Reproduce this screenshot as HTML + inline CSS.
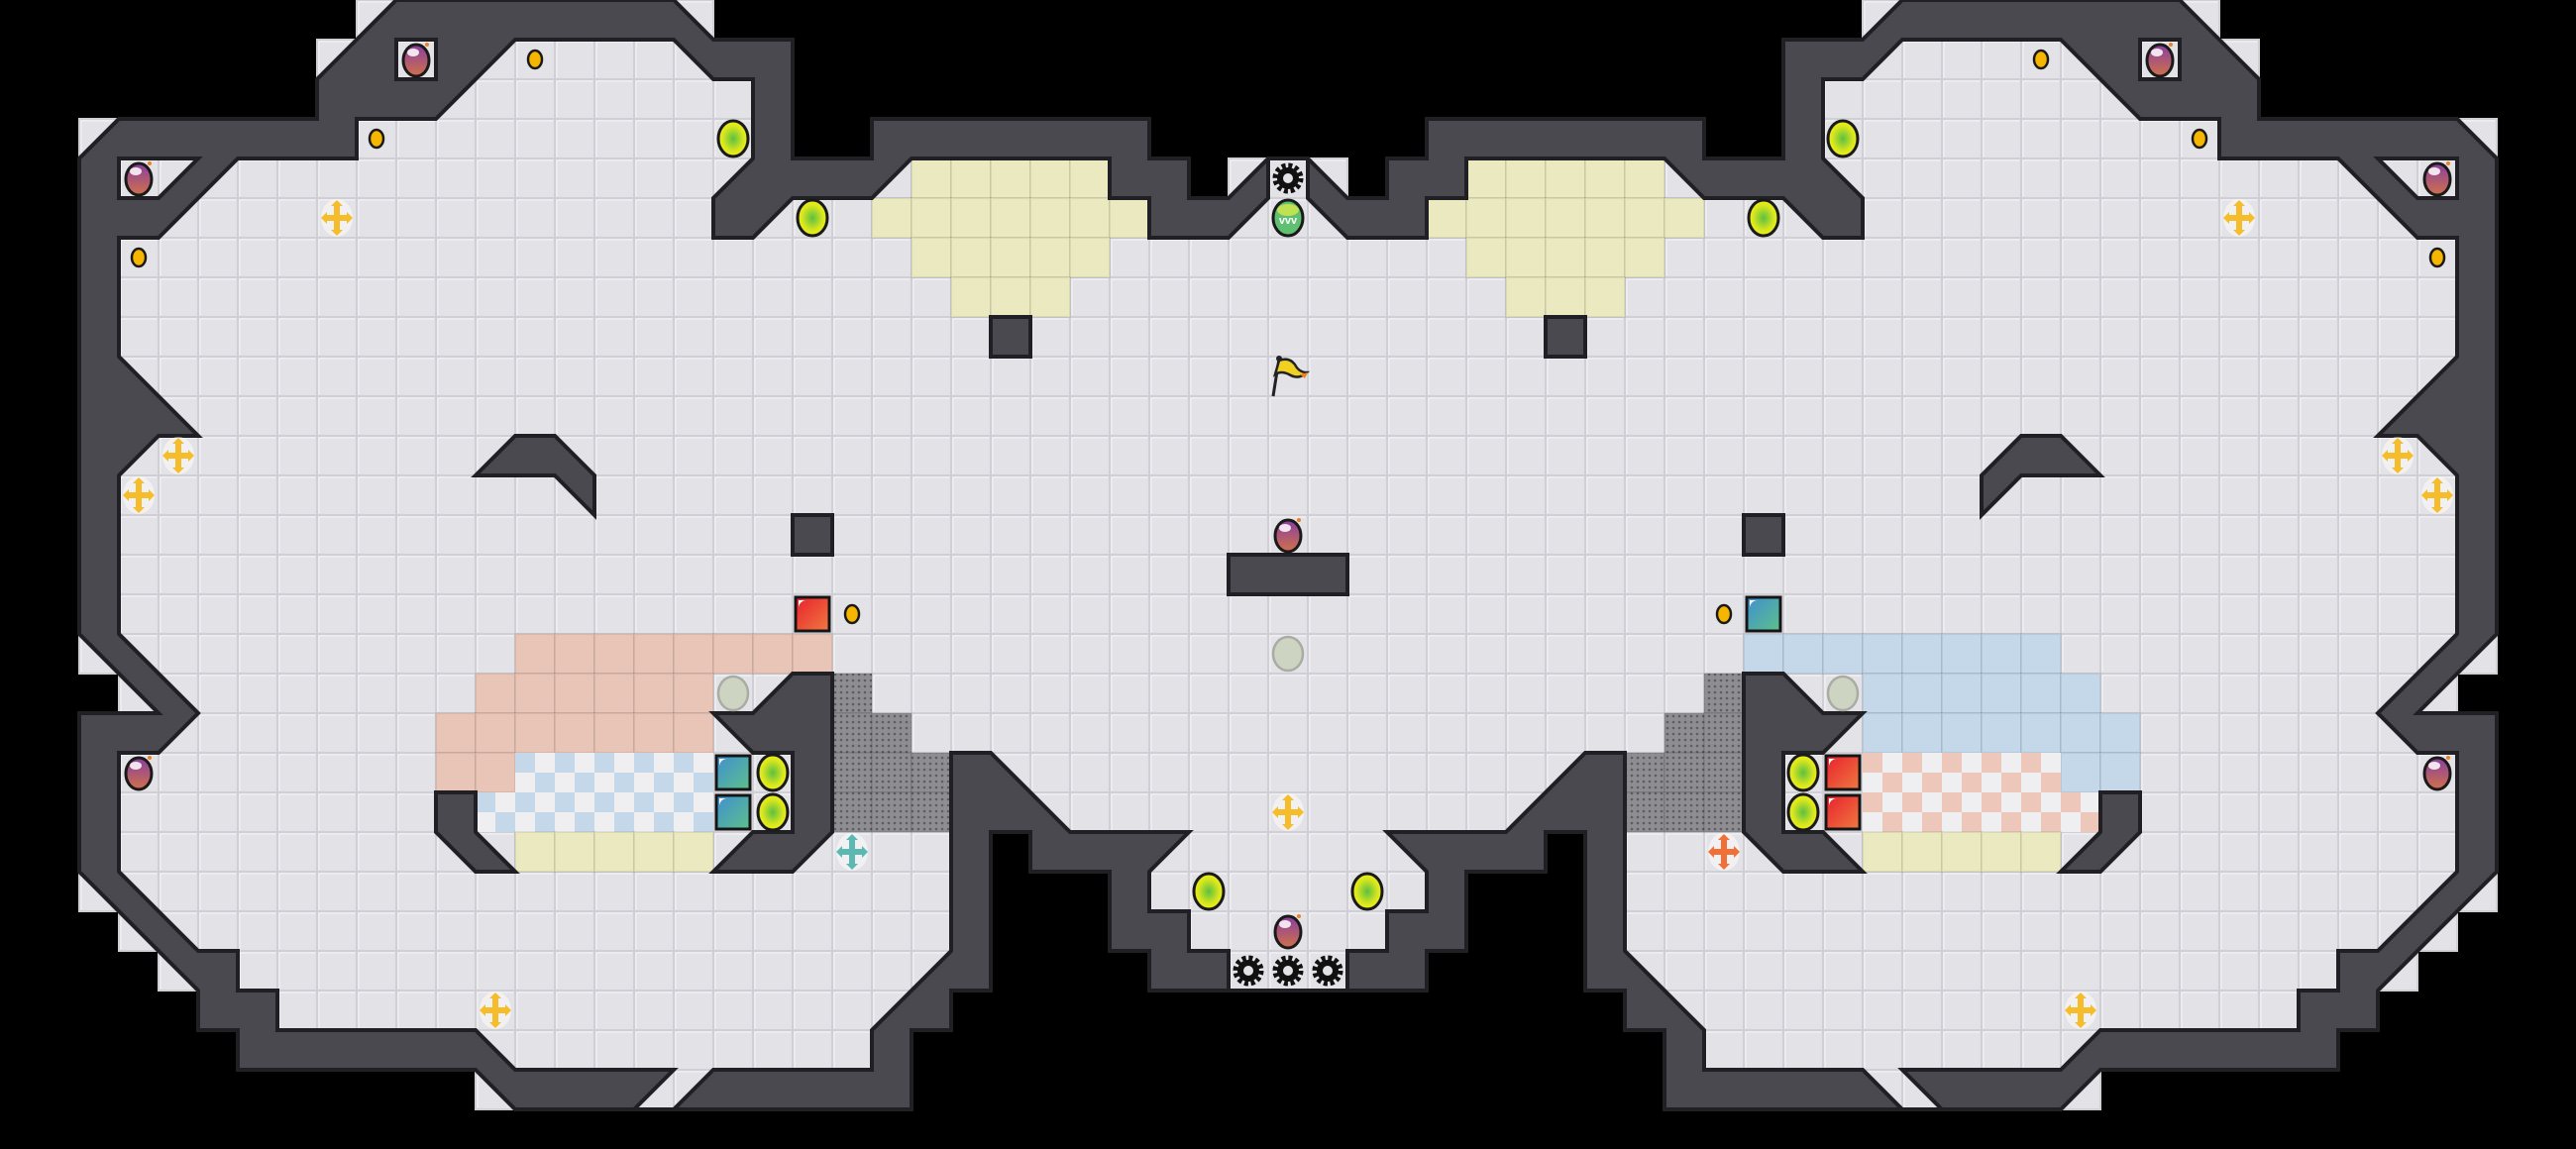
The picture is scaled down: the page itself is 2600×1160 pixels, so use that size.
<!DOCTYPE html>
<html><head><meta charset="utf-8"><style>
html,body{margin:0;padding:0;background:#000;}
#wrap{width:2600px;height:1160px;overflow:hidden;}
</style></head><body><div id="wrap"></div>
<script>
const S=40;
const oL=[[32,4],[31,5],[30,5],[30,4],[29,4],[29,3],[22,3],[22,4],[20,4],[20,1],[18,1],[17,0],[10,0],[9,1],[8,2],[8,3],[3,3],[2,4],[2,16],[4,18],[2,18],[2,22],[5,25],[5,26],[6,26],[6,27],[12,27],[13,28],[23,28],[23,26],[24,26],[24,25],[25,25],[25,21],[26,21],[26,22],[28,22],[28,24],[29,24],[29,25],[31,25]];
const iL=[[32,4],[32,5],[31,6],[29,6],[29,5],[28,5],[28,4],[23,4],[22,5],[20,5],[19,6],[18,6],[18,5],[19,4],[19,2],[18,2],[17,1],[13,1],[11,3],[9,3],[9,4],[6,4],[4,6],[3,6],[3,9],[5,11],[4,11],[3,12],[3,16],[5,18],[4,19],[3,19],[3,22],[5,24],[6,24],[6,25],[7,25],[7,26],[12,26],[13,27],[17,27],[16,28],[17,28],[18,27],[22,27],[22,26],[24,24],[24,19],[25,19],[27,21],[30,21],[29,22],[29,23],[30,23],[30,24],[31,24],[31,25]];
const m=p=>[65-p[0],p[1]];
const full=L=>L.concat(L.slice().reverse().map(m));
const outer=full(oL), inner=full(iL);
function pip(x,y,poly){let ins=false;for(let i=0,j=poly.length-1;i<poly.length;j=i++){const xi=poly[i][0],yi=poly[i][1],xj=poly[j][0],yj=poly[j][1];if(((yi>y)!=(yj>y))&&(x<(xj-xi)*(y-yi)/(yj-yi)+xi))ins=!ins;}return ins;}
const P=pts=>'M'+pts.map(p=>(p[0]*S)+','+(p[1]*S)).join('L')+'Z';
let s='<svg xmlns="http://www.w3.org/2000/svg" width="2600" height="1160" viewBox="0 0 2600 1160">';
s+='<defs><radialGradient id="yg" cx="50%" cy="50%" r="50%"><stop offset="0" stop-color="#5cc040"/><stop offset="0.7" stop-color="#d8e61e"/><stop offset="1" stop-color="#eef01a"/></radialGradient>'+
'<linearGradient id="bm" x1="0" y1="0" x2="0" y2="1"><stop offset="0" stop-color="#8a3fa0"/><stop offset="1" stop-color="#d0704a"/></linearGradient>'+
'<linearGradient id="tl" x1="0" y1="0" x2="1" y2="1"><stop offset="0" stop-color="#3f8fd0"/><stop offset="1" stop-color="#5ec08a"/></linearGradient>'+
'<linearGradient id="rd" x1="0" y1="0" x2="1" y2="1"><stop offset="0" stop-color="#e8202e"/><stop offset="1" stop-color="#f07a40"/></linearGradient>'+
'<pattern id="dots" width="6" height="6" patternUnits="userSpaceOnUse"><rect width="6" height="6" fill="#8e8e92"/><circle cx="3" cy="3" r="1.3" fill="#5e5e62"/></pattern></defs>';
s+='<rect width="2600" height="1160" fill="#000"/>';
// floor
for(let r=0;r<29;r++)for(let c=0;c<65;c++){let f=false;for(let a=0;a<4&&!f;a++)for(let b=0;b<4&&!f;b++){if(pip(c+0.125+a*0.25,r+0.125+b*0.25,outer))f=true;}
 if(f)s+='<rect x="'+(c*S)+'" y="'+(r*S)+'" width="40" height="40" fill="#e3e3e7" stroke="#cfcfd5" stroke-width="2"/><path d="M'+(c*S+2)+','+(r*S+38)+'V'+(r*S+2)+'H'+(c*S+38)+'" stroke="#f2f2f5" stroke-width="1.2" fill="none"/>';}
function cells(list,col){list.forEach(([r,a,b])=>{for(let c=a;c<=b;c++)s+='<rect x="'+(c*S)+'" y="'+(r*S)+'" width="40" height="40" fill="'+col+'" stroke="rgba(0,0,0,0.07)" stroke-width="2"/>';});}
function checker(list,col){list.forEach(([r,a,b])=>{for(let c=a;c<=b;c++){s+='<rect x="'+(c*S)+'" y="'+(r*S)+'" width="40" height="40" fill="#efeff1"/>';s+='<rect x="'+(c*S)+'" y="'+(r*S)+'" width="20" height="20" fill="'+col+'"/><rect x="'+(c*S+20)+'" y="'+(r*S+20)+'" width="20" height="20" fill="'+col+'"/>';}});}
cells([[4,23,27],[5,22,28],[6,23,27],[7,24,26],[4,37,41],[5,36,42],[6,37,41],[7,38,40]],'#ebe9bf');
cells([[16,13,20],[17,12,17],[18,11,17],[19,11,12]],'#e8c5b7');
cells([[16,44,51],[17,47,52],[18,47,53],[19,52,53]],'#c4d8ea');
checker([[19,13,17],[20,12,17]],'#c4d8ea');
checker([[19,47,51],[20,47,52]],'#edc8ba');
cells([[21,13,17],[21,47,51]],'#ebe9bf');
cells([[17,21,21],[18,21,22],[19,21,23],[20,21,23],[17,43,43],[18,42,43],[19,41,43],[20,41,43]],'url(#dots)');
// walls
const pockets=[[[3,4],[5,4],[4,5],[3,5]],[[10,1],[11,1],[11,2],[10,2]]];
let wd=P(outer)+P(inner);
pockets.forEach(p=>{wd+=P(p)+P(p.map(m));});
const WS='fill="#4a4950" stroke="#202024" stroke-width="4" stroke-linejoin="miter"';
s+='<path d="'+wd+'" fill-rule="evenodd" '+WS+'/>';
const sq=(c,r)=>[[c,r],[c+1,r],[c+1,r+1],[c,r+1]];
const isl=[sq(25,8),[[12,12],[13,11],[14,11],[15,12],[15,13],[14,12]],sq(20,13),
[[20,17],[21,17],[21,21],[20,22],[18,22],[19,21],[20,21],[20,19],[19,19],[18,18],[19,18]],
[[11,20],[12,20],[12,21],[13,22],[12,22],[11,21]]];
isl.forEach(p=>{s+='<path d="'+P(p)+P(p.map(m))+'" '+WS+'/>';});
s+='<path d="'+P([[31,14],[34,14],[34,15],[31,15]])+'" '+WS+'/>';
// items
const cx=c=>c*S+20;
function bomb(c,r){const x=cx(c),y=cx(r);s+='<ellipse cx="'+x+'" cy="'+(y+1)+'" rx="13" ry="16" fill="url(#bm)" stroke="#1a1a1a" stroke-width="3"/><ellipse cx="'+(x-3)+'" cy="'+(y-7)+'" rx="6" ry="4" fill="#fff" opacity="0.85"/><circle cx="'+(x+11)+'" cy="'+(y-15)+'" r="2" fill="#f08020"/>';}
function dot(c,r){s+='<ellipse cx="'+cx(c)+'" cy="'+cx(r)+'" rx="7" ry="9" fill="#f7b500" stroke="#1a1a1a" stroke-width="2.5"/>';}
function yg(c,r){s+='<ellipse cx="'+cx(c)+'" cy="'+cx(r)+'" rx="15" ry="18" fill="url(#yg)" stroke="#1a1a1a" stroke-width="3"/>';}
function cross(c,r,col){const x=cx(c),y=cx(r);s+='<ellipse cx="'+x+'" cy="'+y+'" rx="16" ry="19" fill="#fff" opacity="0.5"/><path d="M'+(x-13)+','+y+'H'+(x+13)+'M'+x+','+(y-15)+'V'+(y+15)+'" stroke="'+col+'" stroke-width="6"/><path d="M'+(x-16)+','+y+'l6,-6v12zM'+(x+16)+','+y+'l-6,-6v12zM'+x+','+(y-18)+'l-6,6h12zM'+x+','+(y+18)+'l-6,-6h12z" fill="'+col+'"/>';}
function grey(c,r){s+='<ellipse cx="'+cx(c)+'" cy="'+cx(r)+'" rx="15" ry="17" fill="#cdd5c2" stroke="#a9aca4" stroke-width="2.5"/>';}
function box(c,r,g){s+='<rect x="'+(c*S+3)+'" y="'+(r*S+3)+'" width="34" height="34" fill="url(#'+g+')" stroke="#151515" stroke-width="3"/><path d="M'+(c*S+6)+','+(r*S+14)+'a8,8 0 0 1 8,-8h-8z" fill="#fff"/>';}
function gear(c,r){const x=cx(c),y=cx(r);s+='<circle cx="'+x+'" cy="'+y+'" r="13" fill="none" stroke="#111" stroke-width="5" stroke-dasharray="4 2.8"/><circle cx="'+x+'" cy="'+y+'" r="8" fill="none" stroke="#111" stroke-width="6"/>';}
[[10,1],[3,4],[3,19],[32,13],[32,23],[54,1],[61,4],[61,19]].forEach(p=>bomb(...p));
[[13,1],[9,3],[3,6],[21,15],[51,1],[55,3],[61,6],[43,15]].forEach(p=>dot(...p));
[[18,3],[20,5],[19,19],[19,20],[30,22],[46,3],[44,5],[45,19],[45,20],[34,22]].forEach(p=>yg(...p));
[[8,5],[4,11],[3,12],[12,25],[32,20],[56,5],[60,11],[61,12],[52,25]].forEach(p=>cross(p[0],p[1],'#f5bd2a'));
cross(21,21,'#5cb8b0');cross(43,21,'#f07038');
[[18,17],[32,16],[46,17]].forEach(p=>grey(...p));
box(18,19,'tl');box(18,20,'tl');box(20,15,'rd');box(44,15,'tl');box(46,19,'rd');box(46,20,'rd');
[[32,4],[31,24],[32,24],[33,24]].forEach(p=>gear(...p));
// green item
s+='<ellipse cx="1300" cy="220" rx="15" ry="18" fill="#5ec070" stroke="#1a1a1a" stroke-width="3"/><ellipse cx="1300" cy="212" rx="11" ry="6" fill="#d8e84a" opacity="0.8"/><text x="1300" y="226" font-family="Liberation Sans, sans-serif" font-size="11" font-weight="bold" fill="#fff" text-anchor="middle">vvv</text>';
// flag
s+='<path d="M1285,400 L1291,362" stroke="#222" stroke-width="3"/><circle cx="1291" cy="362" r="3" fill="#222"/><path d="M1291,364 q10,-4 16,4 q4,8 12,8 q-8,8 -18,2 q-8,-4 -14,0z" fill="#f0d020" stroke="#222" stroke-width="2.5"/><path d="M1312,378 l8,-2 -3,6z" fill="#f08020"/>';
s+='</svg>';
document.getElementById('wrap').innerHTML=s;
</script></body></html>
